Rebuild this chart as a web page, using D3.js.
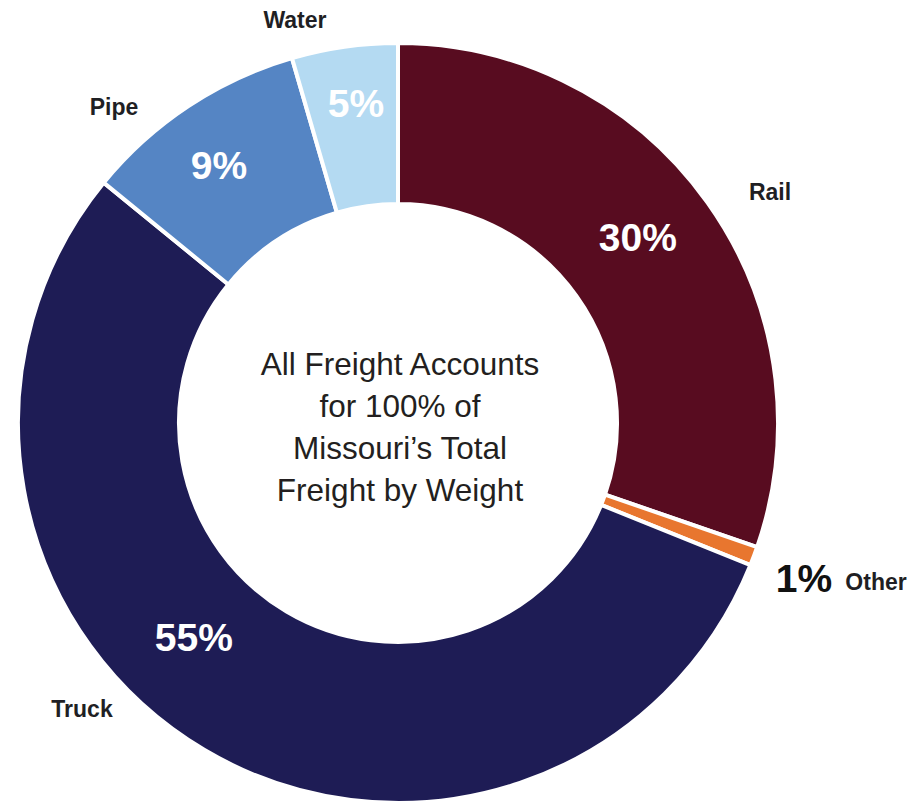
<!DOCTYPE html>
<html>
<head>
<meta charset="utf-8">
<script src="https://cdn.jsdelivr.net/npm/d3@7"></script>
<style>
  html, body { margin: 0; padding: 0; background: #ffffff; }
  svg { display: block; }
  text { font-family: 'Liberation Sans', Arial, Helvetica, sans-serif; }
</style>
</head>
<body>
<svg id="chart" width="914" height="805"></svg>
<script>
// ---- data ----
const categories = ["Rail", "Other", "Truck", "Pipe", "Water"];
const shares = [30.3, 0.8, 54.8, 9.6, 4.5];
const percentLabels = ["30%", "1%", "55%", "9%", "5%"];
const colors = ["#580c20", "#e8762f", "#1e1c55", "#5585c4", "#b4daf2"];
const centerText = ["All Freight Accounts", "for 100% of", "Missouri\u2019s Total", "Freight by Weight"];

// ---- layout ----
const W = 914, H = 805;
const cx = 398, cy = 423;
const outerR = 380, innerR = 219;

const svg = d3.select("#chart");
const g = svg.append("g").attr("transform", `translate(${cx},${cy})`);

const data = categories.map((c, i) => ({ cat: c, value: shares[i], pct: percentLabels[i], color: colors[i] }));

const pie = d3.pie().value(d => d.value).sort(null).startAngle(0).endAngle(2 * Math.PI);
const arcs = pie(data);
const arc = d3.arc().innerRadius(innerR).outerRadius(outerR);

g.selectAll("path.slice")
  .data(arcs)
  .enter().append("path")
  .attr("class", "slice")
  .attr("d", arc)
  .attr("fill", d => d.data.color)
  .attr("stroke", "#ffffff")
  .attr("stroke-width", 4)
  .attr("stroke-linejoin", "round");

// label placement (polar: angle in degrees clockwise from top, radius)
const polar = (deg, r) => {
  const a = deg * Math.PI / 180;
  return [r * Math.sin(a), -r * Math.cos(a)];
};
const pctPlacement = {
  Rail:  { deg: 52.2, r: 303.6, color: "#ffffff" },
  Other: { deg: 110.9, r: 434.6, color: "#111111" },
  Truck: { deg: 223.6, r: 296, color: "#ffffff" },
  Pipe:  { deg: 325.25, r: 314, color: "#ffffff" },
  Water: { deg: 352.5, r: 322.7, color: "#ffffff" }
};
const catPlacement = {
  Rail:  { dx: 372, dy: -223 },
  Other: { dx: 478, dy: 167 },
  Truck: { dx: -316, dy: 294 },
  Pipe:  { dx: -284, dy: -308 },
  Water: { dx: -103, dy: -395 }
};

g.selectAll("text.pct")
  .data(arcs)
  .enter().append("text")
  .attr("class", "pct")
  .attr("transform", d => {
    const p = pctPlacement[d.data.cat];
    const [x, y] = polar(p.deg, p.r);
    return `translate(${x},${y})`;
  })
  .attr("text-anchor", "middle")
  .attr("dy", "0.36em")
  .attr("font-weight", "bold")
  .attr("font-size", 39)
  .attr("fill", d => pctPlacement[d.data.cat].color)
  .text(d => d.data.pct);

g.selectAll("text.cat")
  .data(arcs)
  .enter().append("text")
  .attr("class", "cat")
  .attr("x", d => catPlacement[d.data.cat].dx)
  .attr("y", d => catPlacement[d.data.cat].dy)
  .attr("text-anchor", "middle")
  .attr("font-weight", "bold")
  .attr("font-size", 23)
  .attr("fill", "#1f1f24")
  .text(d => d.data.cat);

// center text
const ct = g.append("text")
  .attr("text-anchor", "middle")
  .attr("font-size", 31.5)
  .attr("fill", "#231f20");
centerText.forEach((line, i) => {
  ct.append("tspan")
    .attr("x", 2)
    .attr("y", -48 + i * 42)
    .text(line);
});
</script>
</body>
</html>
